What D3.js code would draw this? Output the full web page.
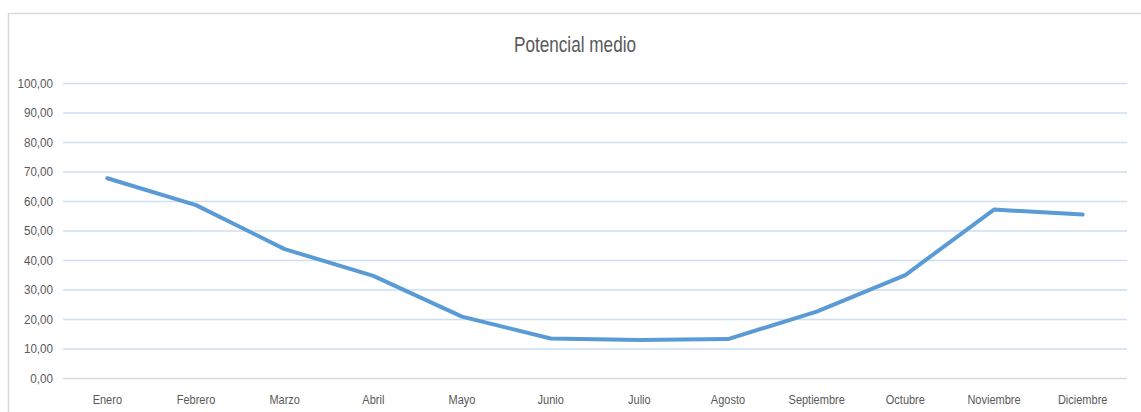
<!DOCTYPE html>
<html><head><meta charset="utf-8">
<script src="https://cdn.jsdelivr.net/npm/d3@7"></script>
<style>body{margin:0;background:#fff;}svg{display:block;}</style>
</head><body>
<svg id="chart" width="1141" height="412"></svg>
<script>
const months = ["Enero","Febrero","Marzo","Abril","Mayo","Junio","Julio","Agosto","Septiembre","Octubre","Noviembre","Diciembre"];
const values = [67.7, 58.6, 43.7, 34.6, 20.8, 13.4, 12.9, 13.2, 22.5, 34.9, 57.1, 55.4];
const yTicks = [0,10,20,30,40,50,60,70,80,90,100];
const title = "Potencial medio";

const svg = d3.select("#chart");
const font = "'Liberation Sans', Arial, sans-serif";
const plotLeft = 63, plotRight = 1127, plotTop = 83, plotBottom = 378;

function squeeze(sel, k) {
  sel.each(function() {
    const w = this.getComputedTextLength();
    d3.select(this).attr("textLength", w * k).attr("lengthAdjust", "spacingAndGlyphs");
  });
}

svg.append("rect").attr("x",8.5).attr("y",13.5).attr("width",1140).attr("height",420)
  .attr("fill","#fff").attr("stroke","#d9d9d9").attr("stroke-width",1.5);

const x = d3.scaleBand().domain(months).range([plotLeft,plotRight]);
const y = d3.scaleLinear().domain([0,100]).range([plotBottom,plotTop]);

const yAxis = svg.append("g").attr("transform",`translate(${plotLeft},0)`)
  .call(d3.axisLeft(y).tickValues(yTicks).tickSize(-(plotRight-plotLeft)).tickPadding(10)
    .tickFormat(d => d3.format(".2f")(d).replace(".",",")));
yAxis.select(".domain").remove();
yAxis.selectAll(".tick line").attr("stroke", d => d===0 ? "#d9d9d9" : "#cddff2").attr("stroke-width",1.5);
yAxis.selectAll(".tick text").attr("fill","#595959").attr("font-family",font).attr("font-size","12.5px");
squeeze(yAxis.selectAll(".tick text"), 0.93);

const xAxis = svg.append("g").attr("transform",`translate(0,${plotBottom})`)
  .call(d3.axisBottom(x).tickSize(0).tickPadding(17));
xAxis.select(".domain").remove();
xAxis.selectAll(".tick text").attr("fill","#595959").attr("font-family",font).attr("font-size","12.5px");
squeeze(xAxis.selectAll(".tick text"), 0.88);

const line = d3.line().x((d,i)=>x(months[i])+x.bandwidth()/2).y(d=>y(d));
svg.append("path").datum(values).attr("d",line).attr("fill","none")
  .attr("stroke","#5b9bd5").attr("stroke-width",4).attr("stroke-linejoin","round").attr("stroke-linecap","round");

const t = svg.append("text").attr("x",575).attr("y",52).attr("text-anchor","middle")
  .attr("fill","#595959").attr("font-family",font).attr("font-size","22px").text(title);
squeeze(t, 0.78);
</script>
</body></html>
